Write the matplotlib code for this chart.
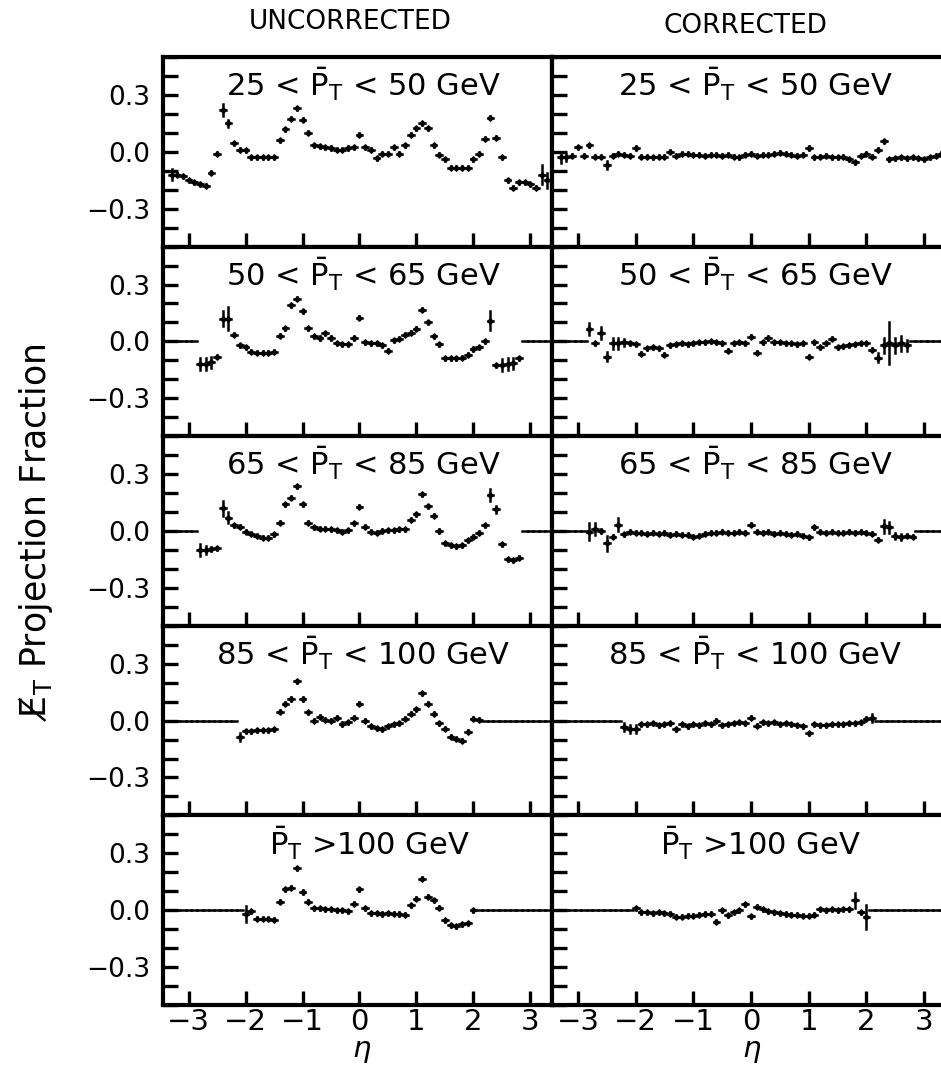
import numpy as np
import matplotlib.pyplot as plt

plt.rcParams['font.family'] = ['DejaVu Sans']
plt.rcParams['mathtext.fontset'] = 'dejavusans'

# eta bin centres, bin width 0.1
eta = np.round(np.arange(-3.3, 3.31, 0.1), 1)
N = None

# uncorrected / corrected projection fraction, one list per pT bin
u1 = [-0.12, -0.12, -0.13, -0.15, -0.16, -0.17, -0.18, -0.11, -0.01, 0.22,
      0.15, 0.045, 0.01, 0.007, -0.03, -0.03, -0.03, -0.03, -0.03, 0.06,
      0.12, 0.175, 0.23, 0.17, 0.10, 0.035, 0.03, 0.025, 0.02, 0.01,
      0.01, 0.02, 0.025, 0.09, 0.025, 0.01, -0.035, -0.01, -0.01, 0.025,
      -0.01, 0.035, 0.09, 0.125, 0.15, 0.125, 0.035, -0.015, -0.04, -0.085,
      -0.085, -0.085, -0.085, -0.04, -0.01, 0.07, 0.18, 0.075, -0.03, -0.15,
      -0.19, -0.16, -0.16, -0.17, -0.19, -0.12, -0.15]
c1 = [-0.03, -0.03, -0.02, 0.025, -0.02, 0.035, -0.025, -0.025, -0.07, -0.02,
      -0.01, -0.015, -0.02, 0.02, -0.025, -0.025, -0.03, -0.025, -0.025, 0.0,
      -0.02, -0.01, -0.01, -0.015, -0.015, -0.02, -0.015, -0.015, -0.02, -0.015,
      -0.025, -0.03, -0.015, -0.01, -0.02, -0.015, -0.015, -0.01, -0.005, -0.01,
      -0.015, -0.02, -0.015, 0.02, -0.03, -0.025, -0.02, -0.03, -0.03, -0.025,
      -0.04, -0.055, -0.02, -0.01, -0.025, 0.01, 0.055, -0.04, -0.035, -0.03,
      -0.035, -0.03, -0.035, -0.04, -0.03, -0.02, -0.01]
u2 = [N, N, N, N, N, -0.12, -0.12, -0.11, -0.08, 0.12,
      0.12, 0.035, -0.02, -0.03, -0.055, -0.06, -0.06, -0.06, -0.055, 0.03,
      0.07, 0.19, 0.225, 0.16, 0.07, 0.026, 0.018, 0.044, 0.018, -0.01,
      -0.014, -0.014, 0.018, 0.126, -0.005, -0.01, -0.01, -0.02, -0.05, 0.005,
      0.015, 0.035, 0.045, 0.067, 0.167, 0.10, 0.026, -0.014, -0.09, -0.09,
      -0.09, -0.085, -0.07, -0.04, -0.03, 0.0, 0.11, -0.125, -0.125, -0.12,
      -0.115, -0.09, N, N, N, N, N]
c2 = [N, N, N, N, N, 0.065, -0.01, 0.045, -0.08, -0.01,
      -0.01, -0.005, -0.01, -0.015, -0.065, -0.035, -0.03, -0.035, -0.07, -0.02,
      -0.015, -0.01, -0.015, -0.01, -0.005, -0.005, 0.0, -0.005, -0.01, -0.05,
      -0.01, -0.005, -0.01, 0.025, -0.06, -0.005, 0.018, -0.005, -0.005, -0.01,
      -0.01, -0.015, -0.01, -0.08, -0.005, -0.03, -0.01, 0.015, -0.03, -0.025,
      -0.02, -0.015, -0.01, -0.01, -0.045, -0.085, -0.02, -0.01, -0.02, -0.01,
      -0.02, N, N, N, N, N, N]
u3 = [N, N, N, N, N, -0.10, -0.10, -0.095, -0.09, 0.12,
      0.07, 0.03, 0.023, -0.005, -0.015, -0.025, -0.035, -0.035, -0.018, 0.044,
      0.14, 0.175, 0.235, 0.14, 0.044, 0.02, 0.012, 0.012, 0.01, 0.005,
      -0.005, 0.005, 0.04, 0.128, 0.023, -0.005, -0.01, 0.0, 0.005, 0.005,
      0.008, 0.01, 0.06, 0.088, 0.193, 0.13, 0.08, 0.0, -0.065, -0.075,
      -0.08, -0.075, -0.05, -0.03, -0.01, 0.03, 0.19, 0.114, -0.07, -0.15,
      -0.155, -0.14, N, N, N, N, N]
c3 = [N, N, N, N, N, -0.005, 0.01, 0.0, -0.065, -0.03,
      0.033, -0.016, -0.005, -0.01, -0.01, -0.015, -0.01, -0.015, -0.01, -0.02,
      -0.015, -0.02, -0.02, -0.03, -0.025, -0.015, -0.01, -0.01, -0.005, -0.01,
      -0.01, -0.005, -0.01, 0.033, -0.005, -0.01, -0.005, -0.015, -0.01, -0.015,
      -0.02, -0.015, -0.025, -0.033, 0.02, -0.005, -0.01, -0.005, -0.01, -0.01,
      -0.005, -0.01, -0.005, -0.01, -0.015, -0.045, 0.025, 0.02, -0.028, -0.03,
      -0.025, -0.03, N, N, N, N, N]
u4 = [N, N, N, N, N, N, N, N, N, N,
      N, N, -0.085, -0.055, -0.055, -0.05, -0.05, -0.05, -0.045, 0.047,
      0.088, 0.114, 0.207, 0.114, 0.044, 0.0, 0.02, 0.005, 0.0, 0.014,
      -0.018, -0.01, 0.014, 0.088, 0.0, -0.03, -0.04, -0.045, -0.03, -0.02,
      -0.015, 0.01, 0.035, 0.06, 0.144, 0.088, 0.035, -0.014, -0.044, -0.085,
      -0.095, -0.105, -0.06, 0.01, 0.005, N, N, N, N, N,
      N, N, N, N, N, N, N]
c4 = [N, N, N, N, N, N, N, N, N, N,
      N, -0.035, -0.045, -0.045, -0.02, -0.02, -0.015, -0.025, -0.02, -0.015,
      -0.045, -0.02, -0.03, -0.02, -0.025, -0.015, -0.02, 0.0, -0.025, -0.02,
      -0.015, -0.01, -0.015, 0.014, -0.026, -0.01, -0.015, -0.01, -0.02, -0.015,
      -0.02, -0.025, -0.03, -0.067, -0.02, -0.025, -0.025, -0.02, -0.02, -0.02,
      -0.015, -0.015, -0.01, 0.01, 0.014, N, N, N, N, N,
      N, N, N, N, N, N, N]
u5 = [N, N, N, N, N, N, N, N, N, N,
      N, N, N, -0.02, -0.005, -0.045, -0.045, -0.045, -0.05, 0.044,
      0.11, 0.118, 0.22, 0.096, 0.044, 0.01, 0.01, 0.005, 0.005, 0.0,
      0.0, -0.005, 0.035, 0.11, 0.01, -0.015, -0.015, -0.02, -0.015, -0.018,
      -0.02, -0.023, 0.026, 0.06, 0.167, 0.07, 0.053, 0.012, -0.053, -0.08,
      -0.085, -0.075, -0.07, 0.0, N, N, N, N, N, N,
      N, N, N, N, N, N, N]
c5 = [N, N, N, N, N, N, N, N, N, N,
      N, N, N, 0.01, -0.01, -0.01, -0.015, -0.01, -0.015, -0.018,
      -0.035, -0.035, -0.03, -0.03, -0.025, -0.02, -0.018, -0.06, 0.0, -0.026,
      -0.01, 0.0, 0.032, -0.032, 0.018, 0.005, -0.005, -0.01, -0.015, -0.02,
      -0.025, -0.025, -0.03, -0.03, -0.025, 0.005, 0.0, 0.005, 0.0, 0.005,
      0.005, 0.053, -0.01, -0.035, N, N, N, N, N, N,
      N, N, N, N, N, N, N]

# bins with larger error bars (eta: error); all others use base_err
base_err = 0.008
e_u1 = {-3.3: 0.03, -2.4: 0.03, -2.3: 0.02, 3.2: 0.05, 3.3: 0.04}
e_c1 = {-3.3: 0.03, -3.2: 0.02, -2.5: 0.02}
e_u2 = {-2.8: 0.03, -2.7: 0.03, -2.6: 0.03, -2.4: 0.04, -2.3: 0.06,
        2.3: 0.05, 2.5: 0.03, 2.6: 0.03, 2.7: 0.03}
e_c2 = {-2.8: 0.03, -2.6: 0.03, -2.5: 0.025, -2.4: 0.03, -2.3: 0.03, -2.2: 0.02,
        2.2: 0.025, 2.3: 0.04, 2.4: 0.11, 2.5: 0.04, 2.6: 0.04, 2.7: 0.03}
e_u3 = {-2.8: 0.03, -2.7: 0.02, -2.4: 0.04, -2.3: 0.03, 2.3: 0.03, 2.4: 0.02}
e_c3 = {-2.8: 0.045, -2.7: 0.03, -2.5: 0.04, -2.3: 0.035, 2.3: 0.035, 2.4: 0.03,
        2.5: 0.015, 2.6: 0.015}
e_u4 = {-2.1: 0.02}
e_c4 = {-2.2: 0.02, -2.1: 0.02, -2.0: 0.02, 2.1: 0.02}
e_u5 = {-2.0: 0.04}
e_c5 = {1.8: 0.04, 2.0: 0.065}

uncorr = [u1, u2, u3, u4, u5]
corr = [c1, c2, c3, c4, c5]
err_unc = [e_u1, e_u2, e_u3, e_u4, e_u5]
err_cor = [e_c1, e_c2, e_c3, e_c4, e_c5]
titles = [r'25 < $\bar{\mathrm{P}}_{\mathrm{T}}$ < 50 GeV',
          r'50 < $\bar{\mathrm{P}}_{\mathrm{T}}$ < 65 GeV',
          r'65 < $\bar{\mathrm{P}}_{\mathrm{T}}$ < 85 GeV',
          r'85 < $\bar{\mathrm{P}}_{\mathrm{T}}$ < 100 GeV',
          r'$\bar{\mathrm{P}}_{\mathrm{T}}$ >100 GeV']
xticks = [-3, -2, -1, 0, 1, 2, 3]
yticks = [-0.3, 0.0, 0.3]


def draw(ax, vals, errs):
    v = np.array([np.nan if a is None else a for a in vals], dtype=float)
    has = ~np.isnan(v)
    ye = np.array([errs.get(e, base_err) for e in eta])
    # empty bins show as a flat line at zero
    e0 = ax.errorbar(eta[~has], np.zeros((~has).sum()), xerr=0.05, fmt='none',
                     ecolor='black', elinewidth=1.8)
    e1 = ax.errorbar(eta[has], v[has], xerr=0.05, yerr=ye[has], fmt='D', ms=2.8,
                     color='black', ecolor='black', elinewidth=1.8, capsize=0)
    for lc in list(e0[2]) + list(e1[2]):
        lc.set_capstyle('projecting')


fig = plt.figure(figsize=(9.41, 10.70), dpi=100)
L, M, R = 163 / 941, 552 / 941, 946 / 941
top, bot = 1 - 57 / 1070, 1 - 1005 / 1070
h = (top - bot) / 5

for r in range(5):
    for c in range(2):
        x0 = L if c == 0 else M
        w = (M - L) if c == 0 else (R - M)
        ax = fig.add_axes([x0, top - (r + 1) * h, w, h])
        if c == 0:
            draw(ax, uncorr[r], err_unc[r])
        else:
            draw(ax, corr[r], err_cor[r])
        ax.set_xlim(-3.45, 3.38)
        ax.set_ylim(-0.5, 0.5)
        ax.set_xticks(xticks)
        ax.set_yticks(yticks)
        ax.set_yticks([-0.5, -0.4, -0.2, -0.1, 0.1, 0.2, 0.4, 0.5], minor=True)
        ax.tick_params(axis='x', which='both', direction='in', length=10, width=2.4,
                       bottom=True, top=False, labelsize=21, pad=2)
        ax.tick_params(axis='y', which='both', direction='in', length=11, width=2.4,
                       left=True, right=False, labelsize=19, pad=9)
        ax.set_yticklabels(['\u22120.3', '0.0', '0.3'] if c == 0 else [])
        if r < 4:
            ax.set_xticklabels([])
        for s in ax.spines.values():
            s.set_linewidth(3)
        tx = 0.53 if r == 4 else 0.515
        ax.text(tx, 0.855, titles[r], transform=ax.transAxes, ha='center',
                va='center', fontsize=22)

fig.text(350 / 941, 1 - 22 / 1070, 'UNCORRECTED', ha='center', va='center', fontsize=19)
fig.text(745 / 941, 1 - 26 / 1070, 'CORRECTED', ha='center', va='center', fontsize=19)
fig.text(36 / 941, 1 - 532 / 1070, 'E\u0338$_{\\mathrm{T}}$ Projection Fraction',
         rotation=90, ha='center', va='center', fontsize=25)
fig.text(362 / 941, 1 - 1051 / 1070, r'$\eta$', ha='center', va='center', fontsize=21)
fig.text(752 / 941, 1 - 1051 / 1070, r'$\eta$', ha='center', va='center', fontsize=21)

plt.savefig('out.png', dpi=100)
